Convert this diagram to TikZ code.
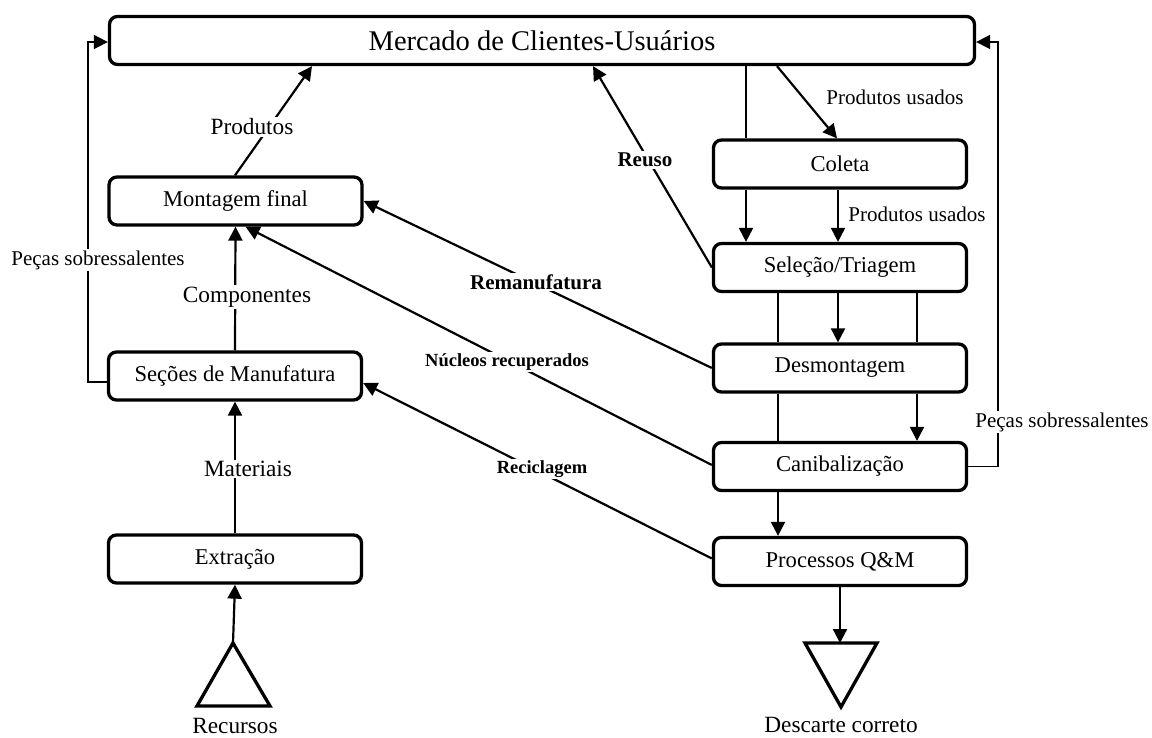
\documentclass[tikz,border=0pt]{standalone}
\usepackage{fontspec}
\setmainfont{Liberation Serif}
\usetikzlibrary{arrows.meta}
\begin{document}
\begin{tikzpicture}[x=1pt,y=-1pt,
  box/.style={draw,line width=3.3pt,rounded corners=8pt,inner sep=0pt,
    minimum width=253pt,minimum height=48pt,font=\fontsize{22.6}{27}\selectfont},
  tip/.style={-{Triangle[length=14pt,width=14pt]}},
  arr/.style={line width=2.2pt,tip},
  ln/.style={line width=1.7pt},
  lab/.style={fill=white,inner sep=1.5pt,font=\fontsize{21}{25}\selectfont},
  labl/.style={fill=white,inner sep=1.5pt,font=\fontsize{23.3}{28}\selectfont},
  blab/.style={fill=white,inner sep=1.5pt,font=\bfseries\fontsize{21}{25}\selectfont},
  sblab/.style={fill=white,inner sep=1.5pt,font=\bfseries\fontsize{18.5}{22}\selectfont},
  tri/.style={line width=3.3pt,line join=miter}]
\useasboundingbox (0,0) rectangle (1152,738);

% boxes
\node[box,minimum width=865pt,minimum height=48pt,font=\fontsize{28.5}{34}\selectfont] (merc) at (542,40.5) {Mercado de Clientes-Usuários};
\node[box] (mont) at (235.5,201) {Montagem final};
\node[box] (sec) at (235,376) {Seções de Manufatura};
\node[box] (ext) at (235,559) {Extração};
\node[box] (col) at (840,164) {Coleta};
\node[box] (sel) at (840,267.5) {Seleção/Triagem};
\node[box] (desm) at (840,368) {Desmontagem};
\node[box] (can) at (840,466.5) {Canibalização};
\node[box] (proc) at (840,561.5) {Processos Q\&M};

% triangles
\draw[tri] (233,643) -- (270,706) -- (197,706) -- cycle;
\coordinate (rec) at (233,643);
\draw[tri] (805,643) -- (877,643) -- (841,707) -- cycle;
\coordinate (desc) at (840,643);
\node[inner sep=0pt,font=\fontsize{23.3}{28}\selectfont] (recl) at (235,726) {Recursos};
\node[inner sep=0pt,font=\fontsize{23.3}{28}\selectfont] (descl) at (841,725) {Descarte correto};

% left column
\draw[arr] (rec) -- (ext.south);
\draw[arr] (ext.north) -- (sec.south);
\draw[arr] (sec.north) -- (mont.south);
\draw[arr] ([xshift=-0.5pt]mont.north) -- ([xshift=-230pt]merc.south);
\draw[ln,tip] ([yshift=-6pt]sec.west) -- ++(-19,0) |- ([yshift=-1.5pt]merc.west);

% right column
\draw[ln] ([xshift=204pt]merc.south) -- ([xshift=-94pt]col.north);
\draw[arr] ([xshift=235pt]merc.south) -- ([xshift=-3pt]col.north);
\draw[arr] ([xshift=-94pt]col.south) -- ([xshift=-94pt]sel.north);
\draw[arr] ([xshift=-2pt]col.south) -- ([xshift=-2pt]sel.north);
\draw[ln] ([xshift=-62pt]sel.south) -- ([xshift=-62pt]desm.north);
\draw[arr] ([xshift=-2pt]sel.south) -- ([xshift=-2pt]desm.north);
\draw[ln] ([xshift=77pt]sel.south) -- ([xshift=77pt]desm.north);
\draw[ln] ([xshift=-62pt]desm.south) -- ([xshift=-62pt]can.north);
\draw[arr] ([xshift=77pt]desm.south) -- ([xshift=77pt]can.north);
\draw[arr] ([xshift=-62pt]can.south) -- ([xshift=-62pt]proc.north);
\draw[arr] (proc.south) -- (desc);
\draw[ln,tip] (can.east) -- ++(30,0) |- ([yshift=-1.5pt]merc.east);

% recovery flows
\draw[arr] (sel.west) -- ([xshift=51pt]merc.south);
\draw[arr] (desm.west) -- (mont.east);
\draw[arr] ([yshift=1.5pt]can.west) -- ([xshift=10pt]mont.south);
\draw[arr] ([yshift=3pt]proc.west) -- ([yshift=-7pt]sec.east);

% labels
\node[labl] (lprod) at (252,127) {Produtos};
\node[labl] (lcomp) at (247,297) {Componentes};
\node[labl] (lmat) at (248,469) {Materiais};
\node[lab] (lpecl) at (98,260) {Peças sobressalentes};
\node[lab] (lpecr) at (1062,422) {Peças sobressalentes};
\node[lab] (lpu1) at (895,97) {Produtos usados};
\node[lab] (lpu2) at (917,214) {Produtos usados};
\node[blab] (lreu) at (645,160) {Reuso};
\node[blab] (lrem) at (536,282) {Remanufatura};
\node[sblab] (lnuc) at (507,362) {Núcleos recuperados};
\node[sblab] (lrec) at (542,469) {Reciclagem};
\end{tikzpicture}
\end{document}
